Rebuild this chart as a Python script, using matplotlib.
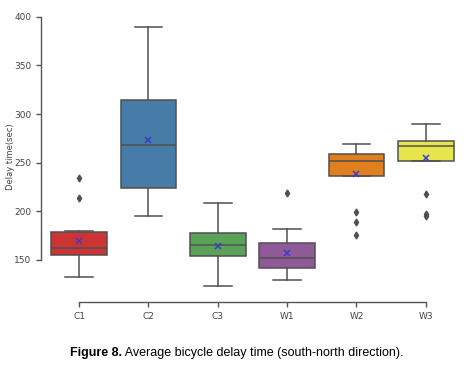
import colorsys
import matplotlib
matplotlib.use("Agg")
import matplotlib.pyplot as plt
from matplotlib import colors as mcolors

# groups and box stats (sec)
groups = ["C1", "C2", "C3", "W1", "W2", "W3"]
q1 = [155, 223.5, 154, 142, 236, 251.5]
med = [162, 268, 165, 152, 251.5, 267]
q3 = [179, 314.5, 177.5, 167.5, 259, 272.5]
whislo = [133, 195, 123.5, 129, 236, 251.5]
whishi = [180, 389.5, 208.5, 181.5, 269.5, 289.5]
means = [170, 273, 164.5, 157.5, 238.5, 255]
fliers = [[234, 214], [], [], [219], [199, 189, 175.5], [218, 197, 195]]
palette = ["#e41a1c", "#377eb8", "#4daf4a", "#984ea3", "#ff7f00", "#ffff33"]


def desat(c, prop=0.75):
    r, g, b = mcolors.to_rgb(c)
    h, l, s = colorsys.rgb_to_hls(r, g, b)
    return colorsys.hls_to_rgb(h, l, s * prop)


stats = []
for i in range(len(groups)):
    stats.append(dict(label=groups[i], q1=q1[i], med=med[i], q3=q3[i],
                      whislo=whislo[i], whishi=whishi[i], mean=means[i],
                      fliers=fliers[i]))

fig = plt.figure(figsize=(4.68, 3.74), dpi=100)
ax = fig.add_axes([0.0876, 0.1917, 0.9039, 0.7636])

line_c = "#505050"
bp = ax.bxp(stats, positions=range(len(groups)), widths=0.8, patch_artist=True,
            showmeans=True, capwidths=0.4,
            boxprops=dict(edgecolor=line_c, linewidth=1.1),
            whiskerprops=dict(color=line_c, linewidth=1.1),
            capprops=dict(color=line_c, linewidth=1.1),
            medianprops=dict(color=line_c, linewidth=1.1),
            meanprops=dict(marker="x", markeredgecolor="#3a3acc", markersize=4.5,
                           markeredgewidth=1.1),
            flierprops=dict(marker="d", markerfacecolor=line_c, markeredgecolor=line_c,
                            markersize=3.5))
for patch, c in zip(bp["boxes"], palette):
    patch.set_facecolor(desat(c))

ax.set_xlim(-0.548, 5.55)
ax.set_ylim(106.5, 400)
ax.set_yticks([150, 200, 250, 300, 350, 400])
ax.set_xticks(range(len(groups)))
ax.set_xticklabels(groups)

for s in ["top", "right"]:
    ax.spines[s].set_visible(False)
ax.spines["left"].set_bounds(150, 400)
ax.spines["bottom"].set_bounds(0, 5)
for s in ["left", "bottom"]:
    ax.spines[s].set_color("#555555")
    ax.spines[s].set_linewidth(1.0)
ax.tick_params(colors="#555555", labelsize=6.5, length=3.5, width=1.0,
               labelcolor="#444444")

# y label sits right at the left edge, as in the source image
fig.text(0.022, 0.58, "Delay time(sec)", rotation=90, fontsize=6,
         color="#444444", ha="center", va="center")

cap_font = ["Liberation Sans Narrow", "Liberation Sans"]
t1 = fig.text(70 / 468, 1 - 353 / 374, "Figure 8.", fontsize=9, fontweight="bold",
              family=cap_font, va="center")
ax.annotate(" Average bicycle delay time (south-north direction).", xy=(1, 0),
            xycoords=t1, va="bottom", ha="left", fontsize=9,
            family=cap_font, annotation_clip=False)

fig.savefig("out.png", dpi=100)
